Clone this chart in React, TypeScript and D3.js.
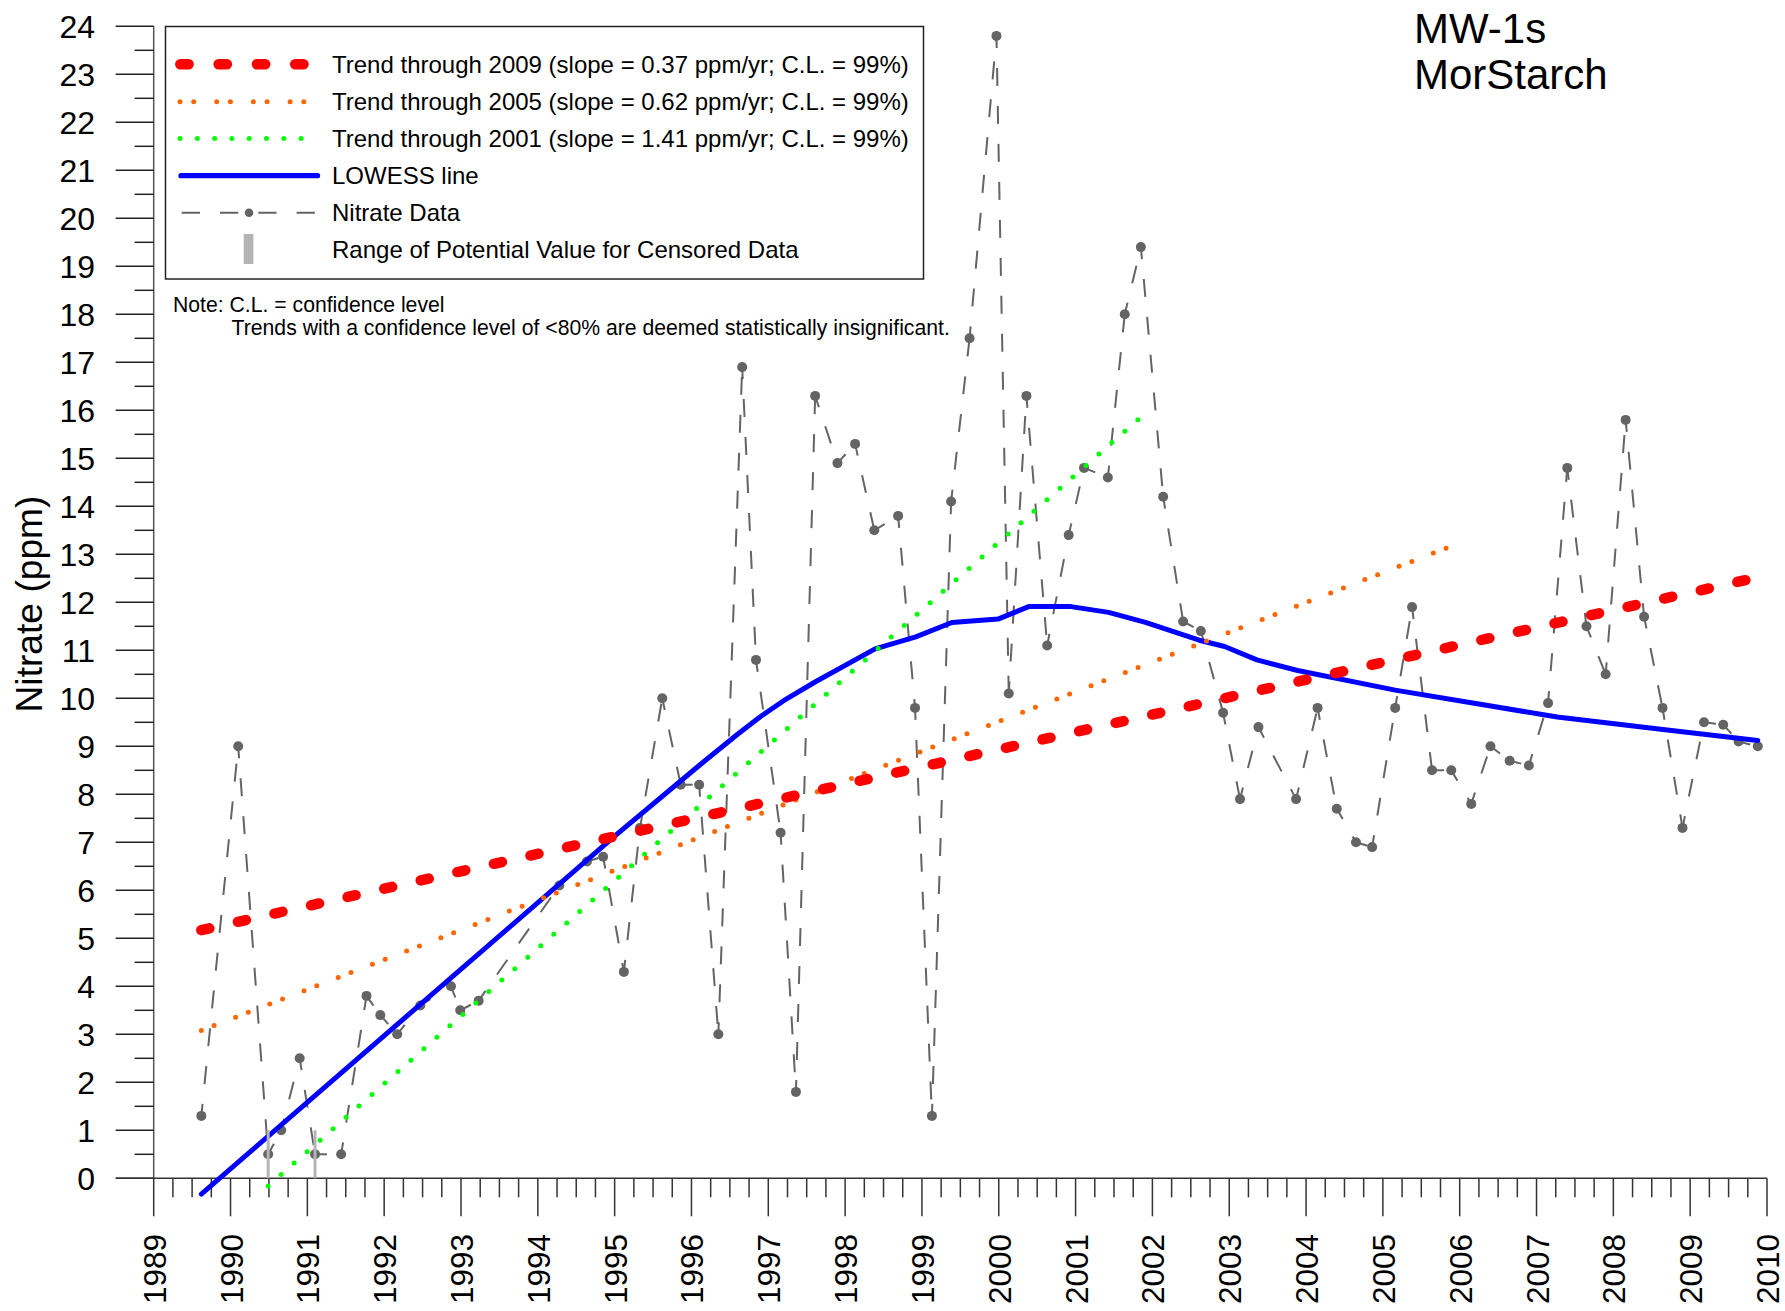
import React from 'react';
import * as d3 from 'd3';

// ---------- data ----------
const sampleDates = [
  1989.62, 1990.10, 1990.49, 1990.66, 1990.90, 1991.10, 1991.44, 1991.77, 1991.95, 1992.17,
  1992.47, 1992.87, 1992.99, 1993.23, 1994.28, 1994.64, 1994.85, 1995.12, 1995.33, 1995.62,
  1995.86, 1996.10, 1996.35, 1996.66, 1996.84, 1997.16, 1997.36, 1997.61, 1997.90, 1998.13,
  1998.38, 1998.69, 1998.91, 1999.13, 1999.38, 1999.62, 1999.97, 2000.13, 2000.36, 2000.63,
  2000.91, 2001.11, 2001.42, 2001.64, 2001.85, 2002.14, 2002.40, 2002.63, 2002.92, 2003.14,
  2003.38, 2003.87, 2004.15, 2004.40, 2004.65, 2004.86, 2005.16, 2005.38, 2005.64, 2005.89,
  2006.15, 2006.40, 2006.65, 2006.90, 2007.15, 2007.40, 2007.65, 2007.90, 2008.16, 2008.40,
  2008.64, 2008.90, 2009.18, 2009.43, 2009.63, 2009.88,
];
const nitrateValues = [
  1.3, 9.0, 0.5, 1.0, 2.5, 0.5, 0.5, 3.8, 3.4, 3.0,
  3.6, 4.0, 3.5, 3.7, 6.1, 6.6, 6.7, 4.3, 7.3, 10.0,
  8.2, 8.2, 3.0, 16.9, 10.8, 7.2, 1.8, 16.3, 14.9, 15.3,
  13.5, 13.8, 9.8, 1.3, 14.1, 17.5, 23.8, 10.1, 16.3, 11.1,
  13.4, 14.8, 14.6, 18.0, 19.4, 14.2, 11.6, 11.4, 9.7, 7.9,
  9.4, 7.9, 9.8, 7.7, 7.0, 6.9, 9.8, 11.9, 8.5, 8.5,
  7.8, 9.0, 8.7, 8.6, 9.9, 14.8, 11.5, 10.5, 15.8, 11.7,
  9.8, 7.3, 9.5, 9.45, 9.1, 9.0,
];

const censoredDates = [1990.49, 1991.10];
const censoredLow = [0, 0];
const censoredHigh = [1, 1];

const lowessDates = [
  1989.62, 1995.0, 1996.1, 1996.6, 1996.9, 1997.2, 1997.62, 1998.39, 1998.92, 1999.39, 1999.99,
  2000.39, 2000.94, 2001.43, 2001.91, 2002.61, 2002.94, 2003.36, 2003.89, 2005.16, 2006.21,
  2007.27, 2008.59, 2009.88,
];
const lowessValues = [
  -0.33, 7.13, 8.6, 9.25, 9.62, 9.95, 10.35, 11.03, 11.28, 11.58, 11.65,
  11.91, 11.91, 11.79, 11.58, 11.21, 11.08, 10.8, 10.58, 10.17, 9.89,
  9.61, 9.36, 9.12,
];

const trend2009Dates = [1989.62, 2009.88];
const trend2009Values = [5.17, 12.52];
const trend2005Dates = [1989.62, 2005.89];
const trend2005Values = [3.08, 13.17];
const trend2001Dates = [1990.49, 2001.85];
const trend2001Values = [-0.16, 15.86];

const yearTicks = d3.range(1989, 2011);
const valueTicks = d3.range(0, 25);

const legendLabels = [
  'Trend through 2009 (slope = 0.37 ppm/yr; C.L. = 99%)',
  'Trend through 2005 (slope = 0.62 ppm/yr; C.L. = 99%)',
  'Trend through 2001 (slope = 1.41 ppm/yr; C.L. = 99%)',
  'LOWESS line',
  'Nitrate Data',
  'Range of Potential Value for Censored Data',
];
const stationLines = ['MW-1s', 'MorStarch'];
const noteLines = [
  'Note: C.L. = confidence level',
  'Trends with a confidence level of <80% are deemed statistically insignificant.',
];
const yAxisTitle = 'Nitrate (ppm)';

// ---------- component ----------
const FONT = '"Liberation Sans", Arial, Helvetica, sans-serif';
const GRAY = '#646464';

export default function App() {
  const W = 1785;
  const H = 1311;
  const x = d3.scaleLinear().domain([1989, 2010]).range([153.7, 1767]);
  const y = d3.scaleLinear().domain([0, 24]).range([1178.3, 26.3]);
  const line = d3
    .line<[number, number]>()
    .x((d) => x(d[0]))
    .y((d) => y(d[1]));

  const pts: [number, number][] = sampleDates.map((d, i) => [d, nitrateValues[i]]);
  const lowess: [number, number][] = lowessDates.map((d, i) => [d, lowessValues[i]]);
  const t2009: [number, number][] = trend2009Dates.map((d, i) => [d, trend2009Values[i]]);
  const t2005: [number, number][] = trend2005Dates.map((d, i) => [d, trend2005Values[i]]);
  const t2001: [number, number][] = trend2001Dates.map((d, i) => [d, trend2001Values[i]]);

  const minorYears = d3.range(1989, 2010, 0.25).filter((v) => Math.abs(v - Math.round(v)) > 1e-6);
  const minorValues = d3.range(0.5, 24, 1);

  const x0 = x(1989);
  const y0 = y(0);

  const legendRowY = [64.3, 101.7, 138.5, 175.7, 212.7, 249];

  return (
    <svg
      width={W}
      height={H}
      style={{ position: 'absolute', left: 0, top: 0, background: '#fff' }}
      fontFamily={FONT}
    >
      <rect x={0} y={0} width={W} height={H} fill="#fff" />

      {/* y axis */}
      <line x1={x0} x2={x0} y1={y(24)} y2={y0} stroke="#555" strokeWidth={1.5} />
      {valueTicks.map((v) => (
        <g key={'yt' + v}>
          <line x1={x0 - 38} x2={x0} y1={y(v)} y2={y(v)} stroke="#222" strokeWidth={1.5} />
          <text x={95} y={y(v)} dy="0.36em" textAnchor="end" fontSize={32} fill="#000">
            {v}
          </text>
        </g>
      ))}
      {minorValues.map((v) => (
        <line key={'ym' + v} x1={x0 - 19} x2={x0} y1={y(v)} y2={y(v)} stroke="#222" strokeWidth={1.5} />
      ))}

      {/* x axis */}
      <line x1={x0 - 38} x2={x(2010)} y1={y0} y2={y0} stroke="#333" strokeWidth={1.5} />
      {yearTicks.map((yr) => (
        <g key={'xt' + yr}>
          <line x1={x(yr)} x2={x(yr)} y1={y0} y2={y0 + 38} stroke="#333" strokeWidth={1.5} />
          <text
            transform={`translate(${x(yr)},${1234}) rotate(-90)`}
            dy="0.38em"
            textAnchor="end"
            fontSize={31.5}
            fill="#000"
          >
            {yr}
          </text>
        </g>
      ))}
      {minorYears.map((yr) => (
        <line key={'xm' + yr} x1={x(yr)} x2={x(yr)} y1={y0} y2={y0 + 19} stroke="#333" strokeWidth={1.5} />
      ))}

      {/* y axis title */}
      <text
        transform={`translate(29,${604}) rotate(-90)`}
        dy="0.36em"
        textAnchor="middle"
        fontSize={37.2}
        fill="#000"
      >
        {yAxisTitle}
      </text>

      {/* nitrate data dashed segments */}
      {pts.slice(1).map((p, i) => {
        const a = pts[i];
        return (
          <line
            key={'seg' + i}
            x1={x(a[0])}
            y1={y(a[1])}
            x2={x(p[0])}
            y2={y(p[1])}
            stroke={GRAY}
            strokeWidth={2}
            strokeDasharray="18 20"
            strokeDashoffset={6}
          />
        );
      })}
      {pts.map((p, i) => (
        <circle key={'pt' + i} cx={x(p[0])} cy={y(p[1])} r={5} fill={GRAY} />
      ))}

      {/* LOWESS */}
      <path d={line(lowess) || ''} fill="none" stroke="#0000ff" strokeWidth={5} strokeLinejoin="round" strokeLinecap="round" />

      {/* censored ranges */}
      {censoredDates.map((d, i) => (
        <line
          key={'cen' + i}
          x1={x(d)}
          x2={x(d)}
          y1={y(censoredLow[i])}
          y2={y(censoredHigh[i])}
          stroke="#b4b4b4"
          strokeWidth={3}
        />
      ))}

      {/* trends */}
      <path d={line(t2001) || ''} fill="none" stroke="#00ff00" strokeWidth={5} strokeLinecap="round" strokeDasharray="0 17.3" />
      <path d={line(t2005) || ''} fill="none" stroke="#ff6600" strokeWidth={5} strokeLinecap="round" strokeDasharray="0 13.7 0 23" />
      <path d={line(t2009) || ''} fill="none" stroke="#ff0000" strokeWidth={10.5} strokeLinecap="round" strokeDasharray="8.2 29.3" />

      {/* legend */}
      <rect x={165.5} y={26.5} width={758} height={252.5} fill="#fff" stroke="#222" strokeWidth={1.5} />
      <line x1={180.3} x2={303.6} y1={legendRowY[0]} y2={legendRowY[0]} stroke="#ff0000" strokeWidth={10.5} strokeLinecap="round" strokeDasharray="8.3 30" />
      <line x1={180} x2={304} y1={legendRowY[1]} y2={legendRowY[1]} stroke="#ff6600" strokeWidth={5} strokeLinecap="round" strokeDasharray="0 13.7 0 23" />
      <line x1={180} x2={302.5} y1={legendRowY[2]} y2={legendRowY[2]} stroke="#00ff00" strokeWidth={5} strokeLinecap="round" strokeDasharray="0 17.3" />
      <line x1={181} x2={317.5} y1={legendRowY[3]} y2={legendRowY[3]} stroke="#0000ff" strokeWidth={5.3} strokeLinecap="round" />
      <line x1={181.7} x2={315.5} y1={legendRowY[4]} y2={legendRowY[4]} stroke={GRAY} strokeWidth={2} strokeDasharray="18.3 20" />
      <circle cx={249} cy={legendRowY[4]} r={4.3} fill={GRAY} />
      <rect x={243.7} y={234} width={9.7} height={30} fill="#b4b4b4" />
      {legendLabels.map((t, i) => (
        <text key={'lg' + i} x={332} y={legendRowY[i]} dy="0.36em" fontSize={24} fill="#000">
          {t}
        </text>
      ))}

      {/* note */}
      <text x={173} y={311.7} fontSize={21.2} fill="#000">
        {noteLines[0]}
      </text>
      <text x={231.6} y={335} fontSize={21.2} fill="#000">
        {noteLines[1]}
      </text>

      {/* station title */}
      {stationLines.map((t, i) => (
        <text key={'st' + i} x={1414} y={43 + i * 45.5} fontSize={42} fill="#000">
          {t}
        </text>
      ))}
    </svg>
  );
}
